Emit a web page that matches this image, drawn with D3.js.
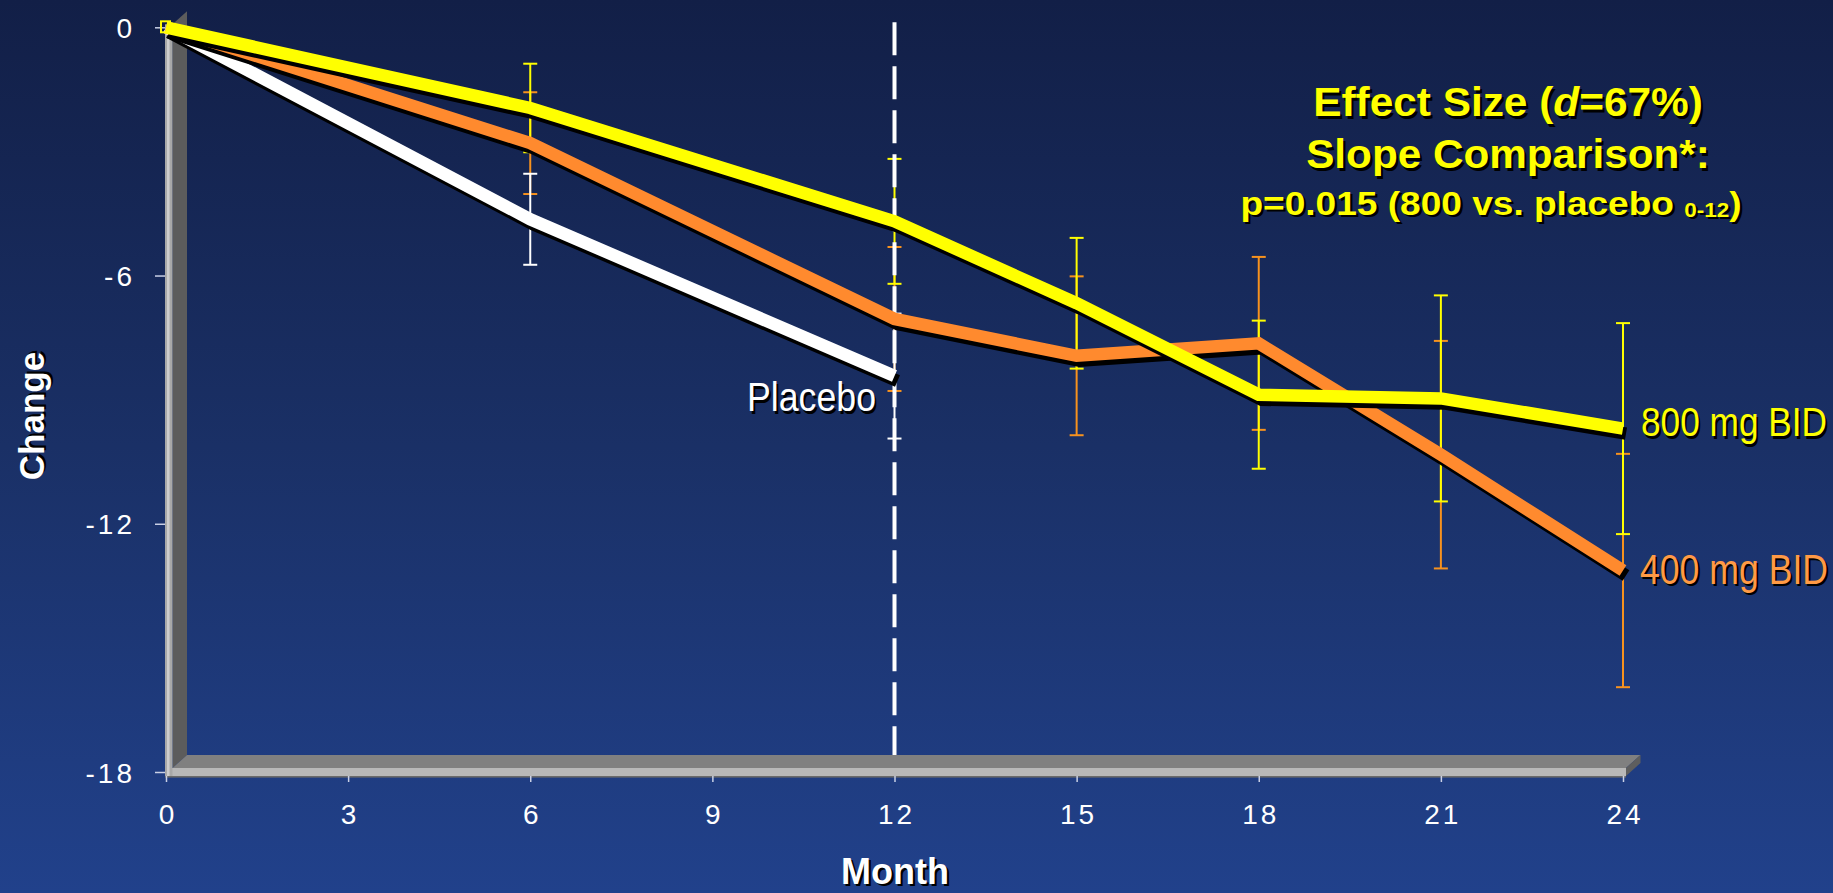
<!DOCTYPE html>
<html><head><meta charset="utf-8">
<script src="https://cdn.jsdelivr.net/npm/d3@7"></script>
<style>html,body{margin:0;padding:0;overflow:hidden;background:#1a2f66}</style>
</head><body>
<svg id="chart" width="1833" height="893"></svg>
<script>
// ---- data ----
const months = [0, 6, 12, 15, 18, 21, 24];
const placeboMonths = [0, 6, 12];
const placebo = [0, -4.64, -8.43];
const placeboErr = [0, 1.10, 1.51];
const dose400 = [0, -2.80, -7.05, -7.94, -7.64, -10.33, -13.13];
const dose400Err = [0, 1.23, 1.74, 1.92, 2.09, 2.75, 2.82];
const dose800 = [0, -1.95, -4.69, -6.67, -8.88, -8.97, -9.70];
const dose800Err = [0, 1.07, 1.51, 1.58, 1.79, 2.49, 2.55];
const xTicks = [0, 3, 6, 9, 12, 15, 18, 21, 24];
const yTicks = [0, -6, -12, -18];
const seriesLabels = ["Placebo", "400 mg BID", "800 mg BID"];
const cutoffMonth = 12;

const W = 1833, H = 893;
const FONT = "'Liberation Sans', Arial, Helvetica, sans-serif";
const svg = d3.select("#chart");

// background gradient
const defs = svg.append("defs");
const bg = defs.append("linearGradient").attr("id", "bg").attr("x1", 0).attr("y1", 0).attr("x2", 0).attr("y2", 1);
bg.append("stop").attr("offset", "0%").attr("stop-color", "#121f47");
bg.append("stop").attr("offset", "50%").attr("stop-color", "#1a3066");
bg.append("stop").attr("offset", "100%").attr("stop-color", "#21418b");
svg.append("rect").attr("width", W).attr("height", H).attr("fill", "url(#bg)");

const x = d3.scaleLinear().domain([0, 24]).range([166, 1623]);
const y = d3.scaleLinear().domain([-18, 0]).range([772, 27.3]);

// ---- 3D wall & floor ----
const x0 = x(0), xE = x(24), yF = y(-18), yT = y(0);
const dX = 14.5, dY = -13;
const wallR = x0 + 6.5, floorTop = yF - 4, floorBot = yF + 4, floorR = xE + 3;
const g3d = svg.append("g");
g3d.append("polygon").attr("fill", "#5c5c5c")
  .attr("points", [[wallR, yT - 3], [wallR + dX, yT - 3 + dY], [wallR + dX, floorTop + dY], [wallR, floorTop]].join(" "));
g3d.append("polygon").attr("fill", "#808080")
  .attr("points", [[wallR, floorTop], [wallR + dX, floorTop + dY], [floorR + dX, floorTop + dY], [floorR, floorTop]].join(" "));
g3d.append("polygon").attr("fill", "#5e5e5e")
  .attr("points", [[floorR, floorTop], [floorR + dX, floorTop + dY], [floorR + dX, floorTop + dY + 8], [floorR, floorBot]].join(" "));
g3d.append("rect").attr("x", x0 - 1).attr("y", floorTop).attr("width", floorR - x0 + 1).attr("height", floorBot - floorTop).attr("fill", "#b8b8b8");
g3d.append("rect").attr("x", x0 - 1).attr("y", floorBot).attr("width", floorR - x0 + 1).attr("height", 1.6).attr("fill", "#6a6a6a");
g3d.append("rect").attr("x", x0 - 1).attr("y", yT - 3).attr("width", wallR - x0 + 1).attr("height", floorBot - yT + 3).attr("fill", "#a8a8a8");
g3d.append("rect").attr("x", x0 + 1).attr("y", yT - 3).attr("width", 2.5).attr("height", floorBot - yT + 3).attr("fill", "#cdcdcd");

// ---- axes ----
const yAxis = d3.axisLeft(y).tickValues(yTicks).tickSize(10).tickPadding(20).tickFormat(d => String(d));
const gy = svg.append("g").attr("transform", `translate(${x0 - 1},0)`).call(yAxis);
gy.select(".domain").remove();
gy.selectAll(".tick line").attr("stroke", "#c9d0e6").attr("stroke-width", 1.5);
gy.selectAll(".tick text").attr("fill", "#ffffff").attr("font-family", FONT).attr("font-size", 28)
  .attr("letter-spacing", 3).attr("dy", "0.36em");

const xAxis = d3.axisBottom(x).tickValues(xTicks).tickSize(6).tickPadding(22).tickFormat(d => String(d));
const gx = svg.append("g").attr("transform", `translate(0,${floorBot})`).call(xAxis);
gx.select(".domain").remove();
gx.selectAll(".tick line").attr("stroke", "#c9d0e6").attr("stroke-width", 1.5);
gx.selectAll(".tick text").attr("fill", "#ffffff").attr("font-family", FONT).attr("font-size", 28)
  .attr("letter-spacing", 3).attr("dx", 1.5);

// ---- error bars ----
function errorBars(ms, vals, errs, color) {
  const data = ms.map((m, i) => ({ m, v: vals[i], e: errs[i] })).filter(d => d.e > 0);
  const g = svg.append("g").attr("stroke", color).attr("stroke-width", 2);
  g.selectAll("line.v").data(data).join("line")
    .attr("x1", d => x(d.m)).attr("x2", d => x(d.m))
    .attr("y1", d => y(d.v + d.e)).attr("y2", d => y(d.v - d.e));
  g.selectAll("line.t").data(data).join("line")
    .attr("x1", d => x(d.m) - 7).attr("x2", d => x(d.m) + 7)
    .attr("y1", d => y(d.v + d.e)).attr("y2", d => y(d.v + d.e));
  g.selectAll("line.b").data(data).join("line")
    .attr("x1", d => x(d.m) - 7).attr("x2", d => x(d.m) + 7)
    .attr("y1", d => y(d.v - d.e)).attr("y2", d => y(d.v - d.e));
}
errorBars(months, dose400, dose400Err, "#f7921e");
errorBars(months, dose800, dose800Err, "#ffff00");
errorBars(placeboMonths, placebo, placeboErr, "#ffffff");

// ---- dashed cutoff line ----
svg.append("line").attr("x1", x(cutoffMonth)).attr("x2", x(cutoffMonth))
  .attr("y1", yT - 5).attr("y2", floorTop + dY)
  .attr("stroke", "#ffffff").attr("stroke-width", 4).attr("stroke-dasharray", "33 11");

// ---- series lines ----
const lineGen = d3.line().x(d => x(d.m)).y(d => y(d.v));
function series(ms, vals, color) {
  const data = ms.map((m, i) => ({ m, v: vals[i] }));
  const g = svg.append("g").attr("fill", "none").attr("stroke-linejoin", "miter").attr("stroke-linecap", "butt");
  g.append("path").attr("d", lineGen(data)).attr("stroke", "#000").attr("stroke-width", 12.5)
    .attr("transform", "translate(3,5)");
  g.append("path").attr("d", lineGen(data)).attr("stroke", color).attr("stroke-width", 12.5);
}
series(placeboMonths, placebo, "#ffffff");
series(months, dose400, "#ff8a2e");
series(months, dose800, "#ffff00");
svg.append("rect").attr("x", x(0) - 5).attr("y", y(0) - 6).attr("width", 9).attr("height", 11)
  .attr("fill", "none").attr("stroke", "#ffff00").attr("stroke-width", 2);

// ---- text helpers ----
function shadowText(px, py, opts, build) {
  const g = svg.append("g");
  [["#000", 2.2], [opts.fill, 0]].forEach(([col, off]) => {
    const t = g.append("text").attr("x", px + off).attr("y", py + off)
      .attr("fill", col).attr("font-family", opts.family || FONT)
      .attr("font-size", opts.size).attr("font-weight", opts.weight || "normal")
      .attr("text-anchor", opts.anchor || "start");
    if (opts.rotate) t.attr("transform", `rotate(${opts.rotate},${px},${py})`);
    build(t);
  });
  return g;
}
function fitWidth(g, target, cx) {
  const w = g.node().getBBox().width;
  const k = target / w;
  g.attr("transform", `translate(${cx},0) scale(${k},1) translate(${-cx},0)`);
}

let gp = shadowText(747, 411.5, { fill: "#ffffff", size: 40 }, t => t.text(seriesLabels[0]));
fitWidth(gp, 131, 747);
let g8 = shadowText(1641, 436.5, { fill: "#ffff00", size: 41 }, t => t.text(seriesLabels[2]));
fitWidth(g8, 188, 1641);
let g4 = shadowText(1640, 584, { fill: "#ff9a45", size: 42 }, t => t.text(seriesLabels[1]));
fitWidth(g4, 190, 1640);

let a1 = shadowText(1508, 116.5, { fill: "#ffff00", size: 40, weight: "bold", anchor: "middle" }, t => {
  t.append("tspan").text("Effect Size (");
  t.append("tspan").attr("font-style", "italic").text("d");
  t.append("tspan").text("=67%)");
});
fitWidth(a1, 392, 1508);
let a2 = shadowText(1508, 168.5, { fill: "#ffff00", size: 40, weight: "bold", anchor: "middle" }, t => {
  t.text("Slope Comparison*:");
});
fitWidth(a2, 406, 1508);
let a3 = shadowText(1491, 215, { fill: "#ffff00", size: 33, weight: "bold", anchor: "middle" }, t => {
  t.append("tspan").text("p=0.015 (800 vs. placebo ");
  t.append("tspan").attr("font-size", 20).attr("dy", 2).text("0-12");
  t.append("tspan").attr("dy", -2).text(")");
});
fitWidth(a3, 504, 1491);

shadowText(44, 416, { fill: "#ffffff", size: 35, weight: "bold", anchor: "middle", rotate: -90 }, t => t.text("Change"));
shadowText(895, 884, { fill: "#ffffff", size: 36, weight: "bold", anchor: "middle" }, t => t.text("Month"));
</script>
</body></html>
